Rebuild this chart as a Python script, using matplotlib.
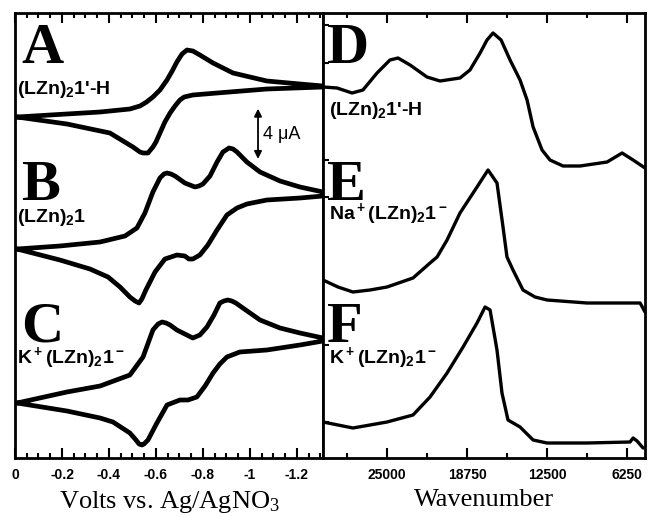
import matplotlib
matplotlib.use("Agg")
import matplotlib.pyplot as plt
from matplotlib.ticker import FixedLocator
from matplotlib.font_manager import FontProperties

plt.rcParams['axes.unicode_minus'] = False

# ---------------- data: cyclic voltammograms (V, arbitrary current offset units) ----
cvA_v = [-0.009, -0.149, -0.362, -0.489, -0.532, -0.560, -0.587, -0.617, -0.647, -0.669, -0.689, -0.711,
         -0.732, -0.757, -0.787, -0.843, -0.928, -1.072, -1.213, -1.311,
         -1.311, -1.072, -0.860, -0.757, -0.720, -0.702, -0.681, -0.660, -0.638, -0.617, -0.600, -0.587,
         -0.566, -0.545, -0.532, -0.502, -0.404, -0.221, -0.009]
cvA_i = [341, 343, 346, 349, 352, 356, 361, 368, 378, 387, 396, 404,
         408, 407, 403, 395, 385, 377, 374, 372,
         371, 369, 365, 363, 361, 358, 352, 345, 336, 325, 316, 311,
         305, 305, 306, 311, 325, 334, 341]

cvB_v = [-0.009, -0.191, -0.362, -0.468, -0.519, -0.553, -0.587, -0.617, -0.634, -0.647, -0.664, -0.681,
         -0.723, -0.766, -0.783, -0.800, -0.830, -0.860, -0.885, -0.911, -0.928, -0.945, -0.987, -1.043,
         -1.128, -1.213, -1.311,
         -1.311, -1.213, -1.072, -0.987, -0.945, -0.902, -0.860, -0.821, -0.787, -0.757, -0.740, -0.723,
         -0.689, -0.664, -0.638, -0.596, -0.557, -0.540, -0.528, -0.511, -0.489, -0.447, -0.396, -0.319,
         -0.191, -0.009]
cvB_i = [209, 212, 216, 222, 230, 245, 266, 280, 284, 285, 284, 282,
         275, 271, 272, 274, 282, 296, 306, 310, 309, 306, 296, 286,
         277, 271, 266,
         262, 260, 258, 254, 250, 243, 228, 213, 203, 199, 199, 202,
         203, 201, 199, 186, 168, 159, 155, 157, 161, 171, 181, 189,
         198, 209]

cvC_v = [-0.009, -0.221, -0.362, -0.489, -0.545, -0.587, -0.609, -0.626, -0.643, -0.660, -0.689, -0.757,
         -0.787, -0.817, -0.847, -0.872, -0.889, -0.906, -0.923, -0.940, -0.970, -1.043, -1.128, -1.213,
         -1.311,
         -1.311, -1.213, -1.072, -0.957, -0.902, -0.872, -0.843, -0.809, -0.774, -0.736, -0.702, -0.647,
         -0.604, -0.566, -0.549, -0.540, -0.528, -0.515, -0.489, -0.417, -0.362, -0.221, -0.009]
cvC_i = [55, 66, 72, 83, 101, 128, 134, 136, 135, 133, 128, 120,
         123, 131, 143, 155, 157, 158, 157, 155, 150, 138, 130, 125,
         120,
         117, 113, 108, 106, 101, 94, 85, 72, 61, 58, 58, 53,
         35, 18, 14, 13, 14, 18, 25, 36, 40, 47, 55]

# ---------------- data: absorption spectra (wavenumber, arbitrary offset units) ----
specD_w = [30000, 28900, 27730, 26880, 25780, 24770, 24140, 23200, 21880, 20860, 19300, 18520, 17730,
           17190, 16720, 16090, 15390, 14610, 14060, 13590, 12890, 12270, 11250, 9920, 7810, 6640, 5780, 4850]
specD_a = [371, 370, 365, 368, 385, 398, 400, 393, 381, 377, 380, 388, 405,
           418, 425, 418, 398, 378, 358, 331, 308, 298, 292, 292, 296, 305, 298, 290]

specE_w = [30000, 28830, 27660, 26330, 25000, 22970, 21640, 21090, 20310, 19300, 17970, 17110, 16410,
           15940, 15630, 15160, 14380, 13440, 12500, 9380, 5230, 4850]
specE_a = [178, 171, 166, 168, 171, 180, 195, 201, 218, 245, 271, 288, 275,
           231, 201, 188, 168, 161, 158, 155, 155, 146]

specF_w = [30000, 27660, 25000, 22970, 21640, 20310, 19060, 17970, 17340, 16950, 16410, 16020, 15550,
           14610, 13590, 12500, 9380, 6020, 5780, 5470, 5000]
specF_a = [36, 30, 36, 43, 61, 85, 111, 135, 151, 148, 108, 65, 38,
           31, 18, 15, 15, 16, 20, 17, 10]

cv_ticks = [0, -0.2, -0.4, -0.6, -0.8, -1.0, -1.2]
cv_ticklabels = ["0", "-0.2", "-0.4", "-0.6", "-0.8", "-1", "-1.2"]
wn_ticks = [25000, 18750, 12500, 6250]
wn_ticklabels = ["25000", "18750", "12500", "6250"]
wn_minor = [28125, 21875, 15625, 9375]

letters_left = ["A", "B", "C"]
letters_right = ["D", "E", "F"]
compounds_left = ["(LZn)$\\mathregular{_2}$1'-H", "(LZn)$\\mathregular{_2}$1",
                  "K$\\mathregular{^+}$(LZn)$\\mathregular{_2}$1$\\mathregular{^-}$"]
compounds_right = ["(LZn)$\\mathregular{_2}$1'-H",
                   "Na$\\mathregular{^+}$(LZn)$\\mathregular{_2}$1$\\mathregular{^-}$",
                   "K$\\mathregular{^+}$(LZn)$\\mathregular{_2}$1$\\mathregular{^-}$"]

# ---------------- figure ----------------
fig = plt.figure(figsize=(6.48, 5.17), dpi=100)
axL = fig.add_axes([15/648, 59/517, 308/648, 445/517])
axR = fig.add_axes([323/648, 59/517, 322/648, 445/517])

cv_lw = 3.4
sp_lw = 2.4
for v, i in [(cvA_v, cvA_i), (cvB_v, cvB_i), (cvC_v, cvC_i)]:
    axL.plot(v, i, color='black', lw=cv_lw, solid_joinstyle='round', solid_capstyle='round')
for w, a in [(specD_w, specD_a), (specE_w, specE_a), (specF_w, specF_a)]:
    axR.plot(w, a, color='black', lw=sp_lw, solid_joinstyle='round', solid_capstyle='round')

axL.set_xlim(0, -1.311)
axR.set_xlim(30000, 4850)
for ax in (axL, axR):
    ax.set_ylim(0, 445)
    for s in ax.spines.values():
        s.set_linewidth(2.0)
    ax.tick_params(axis='x', which='both', direction='in', top=True, bottom=True,
                   width=1.5, pad=7)
    ax.tick_params(axis='x', which='major', length=7)
    ax.tick_params(axis='x', which='minor', length=3.5)

axL.set_xticks(cv_ticks)
axL.set_xticklabels(cv_ticklabels)
axL.xaxis.set_minor_locator(FixedLocator([-0.05 * k for k in range(0, 27)]))
axL.set_yticks([])

axR.set_xticks(wn_ticks)
axR.set_xticklabels(wn_ticklabels)
axR.xaxis.set_minor_locator(FixedLocator(wn_minor))
axR.set_yticks([433, 395, 371, 298, 261, 113, 36])
axR.set_yticklabels([])
axR.tick_params(axis='y', direction='in', length=4, width=1.5)

tick_fp = FontProperties(family='Liberation Sans', weight='bold', size=10)
for ax in (axL, axR):
    for lab in ax.get_xticklabels():
        lab.set_fontproperties(tick_fp)

label_font = dict(family='Liberation Serif', size=19)
axL.set_xlabel("Volts vs. Ag/AgNO$\\mathregular{_3}$", labelpad=5, **label_font)
axR.set_xlabel("Wavenumber", labelpad=5, **label_font)

big = dict(family='Liberation Serif', weight='bold', size=42, va='baseline', ha='left')
comp = dict(family='Liberation Sans', weight='bold', size=14, va='baseline', ha='left')

letter_y = [0.888, 0.580, 0.261]
comp_left_y = [0.818, 0.530, 0.214]
comp_right_y = [0.771, 0.537, 0.214]
for k in range(3):
    axL.text(0.020, letter_y[k], letters_left[k], transform=axL.transAxes, **big)
    axL.text(0.006, comp_left_y[k], compounds_left[k], transform=axL.transAxes, **comp)
    axR.text(0.012, letter_y[k], letters_right[k], transform=axR.transAxes, **big)
    axR.text(0.020, comp_right_y[k], compounds_right[k], transform=axR.transAxes, **comp)

# scale bar
axL.annotate("", xy=(0.789, 0.785), xytext=(0.789, 0.672), xycoords='axes fraction',
             textcoords='axes fraction',
             arrowprops=dict(arrowstyle='<|-|>', color='black', lw=1.3, mutation_scale=11,
                             shrinkA=0, shrinkB=0))
axL.text(0.806, 0.728, "4 \u03bcA", transform=axL.transAxes, family='Liberation Sans',
         size=13, va='center', ha='left')

fig.savefig("out.png", dpi=100)
